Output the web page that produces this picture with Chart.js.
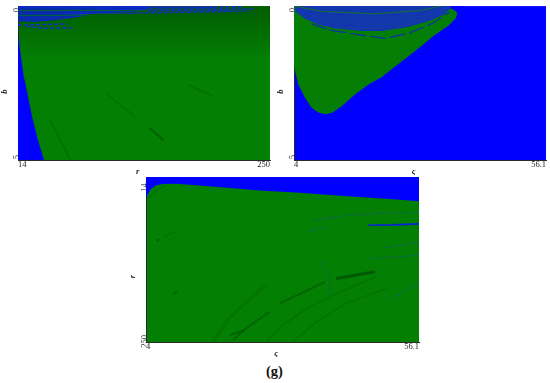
<!DOCTYPE html>
<html>
<head>
<meta charset="utf-8">
<script src="https://cdn.jsdelivr.net/npm/chart.js@4/dist/chart.umd.min.js"></script>
<style>
    html, body { margin: 0; padding: 0; background: #fff; }
    canvas { position: absolute; filter: blur(0.4px); }
    #caption { position: absolute; left: 0; top: 363px; width: 549px; text-align: center;
               font: bold 14.5px "Liberation Serif", serif; color: #111; }
</style>
</head>
<body>
<canvas id="chartRB" style="left:0;top:0"></canvas>
<canvas id="chartZB" style="left:276px;top:0"></canvas>
<canvas id="chartZR" style="left:128px;top:165px"></canvas>
<div id="caption">(g)</div>
<script>
// --- tick labels ---
const rLabels = ['14', '250'];
const bLabels = ['0', '5'];
const zetaLabels = ['4', '56.1'];

// where the tick labels sit: rotated y labels stay inside the axis range
const rTicksX = [14, 250];
const zetaTicksX = [4, 56.1];
const bTicksY = [0.06, 4.84];
const rTicksY = [23, 240];

// --- panel 1: r (x) against b (y) ---
const wedge1 = [[14, 0.93], [19, 2.21], [27.4, 3.62], [32, 4.26], [38.3, 5]];
const darkTop1 = [[14, 1.7], [250, 1.7]];
const blueBlock1 = [[14, 0.5], [30, 0.52], [50, 0.45], [70, 0.36], [85, 0.24], [125, 0.18], [135, 0.1]];
const specks1 = [
    [[14, 0.05], [120, 0.04], [200, 0.05]],
    [[90, 0.1], [150, 0.1], [236, 0.09]],
    [[60, 0.22], [120, 0.23], [170, 0.2], [230, 0.16]],
    [[130, 0.03], [175, 0.03], [225, 0.02]],
    [[135, 0.15], [185, 0.14], [215, 0.13]],
    [[14, 0.62], [35, 0.6], [60, 0.58]],
    [[22, 0.66], [40, 0.72], [66, 0.7]]
];
const greenLines1 = [
    [[14, 0.14], [70, 0.14], [135, 0.15]],
    [[14, 0.3], [60, 0.3], [80, 0.27]]
];
const streaks1 = [
    [[44.2, 3.72], [62.9, 4.98]],
    [[97.2, 2.86], [123.7, 3.59]],
    [[173.3, 2.56], [196.7, 2.92]]
];
const wideStreak1 = [[137.8, 3.97], [150, 4.36]];

// --- panel 2: zeta (x) against b (y) ---
const greenEdge2 = [[4, 1.96], [4.9, 2.55], [6.27, 2.98], [7.65, 3.3], [9.03, 3.46], [10.4, 3.51], [11.8, 3.47],
    [13.85, 3.25], [16.6, 2.87], [19.4, 2.55], [22.1, 2.31], [24.9, 1.96], [27.6, 1.64], [30.4, 1.29],
    [33.1, 0.94], [35.9, 0.64], [37.3, 0.43], [37.8, 0.25]];
const tipCut2 = [[35.8, 0], [36.5, 0.09], [37.3, 0.14], [37.85, 0.25], [39, 0.25]];
const dome2 = [[4.2, 0.17], [6.27, 0.41], [9.03, 0.6], [12.5, 0.73], [18, 0.81], [22.1, 0.81], [27.6, 0.68],
    [31.8, 0.49], [34.9, 0.28], [36.2, 0.11], [36.5, 0]];
const blueArc2 = [[7.6, 0.57], [11.44, 0.78], [18, 0.94], [22.8, 1.05], [27.6, 0.89], [32.5, 0.57], [36.2, 0.19]];
const greenArc2 = [[4.2, 0], [9.7, 0.17], [20.7, 0.25], [30.4, 0.14], [34.2, 0]];
const domeTexture2 = [
    [[8, 0.3], [14, 0.42], [22, 0.46], [30, 0.35], [35, 0.12]],
    [[10, 0.45], [16, 0.58], [24, 0.6], [31, 0.42]],
    [[13, 0.7], [20, 0.74], [27, 0.62], [32, 0.43]]
];

// --- panel 3: zeta (x) against r (y) ---
const blueTop3 = [[4, 44.9], [4.39, 37.75], [5.02, 30.6], [5.98, 25.9], [7.25, 24], [9.79, 23.5], [13.6, 25.9],
    [20, 29.7], [26.3, 33.5], [32.7, 36.3], [39, 39.7], [45.4, 43], [51.8, 46.3], [56.1, 48.7]];
const brightLine3 = [[46.4, 83], [51, 82.5], [56.1, 81]];
const specks3 = [
    [[35.9, 75.8], [41.6, 69.6]],
    [[42.2, 68.7], [49, 66], [56.1, 64]],
    [[35.2, 91.5], [38.4, 85.3]],
    [[46.7, 130.6], [56.1, 125.8]],
    [[49.2, 116], [56.1, 106.8]],
    [[51.1, 187.7], [56.1, 166.2]],
    [[37.1, 135.3], [39, 154.4], [39, 182.9]]
];
const thickStreak3 = [[40.3, 159.1], [47.6, 149.6]];
const streaks3 = [
    [[33.6, 180.5], [38.1, 163.9]],
    [[29.5, 194.8], [33.6, 180.5]],
    [[20.6, 247], [23.1, 230.5], [27.6, 206.7]],
    [[20, 240], [22.8, 233]],
    [[9.2, 182], [10.1, 177]],
    [[6, 105.8], [6.6, 103]]
];
const thinStreaks3 = [
    [[27, 249.5], [30.1, 225.7], [35.2, 199.6], [39.7, 182.9], [48, 156.7]],
    [[32, 250], [36.5, 221], [42.2, 194.8], [49.9, 173.4]],
    [[7.6, 98.2], [9.5, 92.5]],
    [[4.4, 45], [6, 33], [7.5, 27]]
];
const wideStreak3 = [[16.8, 249.5], [19.3, 221], [22.5, 197.2], [27, 168.6]];

const GREEN = '#037f03';
const BLUE = '#0000ff';
const SERIF = '"Liberation Serif", serif';

function toXY(pairs) {
    return pairs.map(p => ({ x: p[0], y: p[1] }));
}

// outline dataset, no fill
function stroke(pairs, color, width, dash) {
    return { data: toXY(pairs), showLine: true, fill: false, pointRadius: 0,
             borderColor: color, borderWidth: width, borderDash: dash || [] };
}

// area between the curve and a constant y value
function area(pairs, color, value) {
    return { data: toXY(pairs), showLine: true, fill: { value: value }, pointRadius: 0,
             borderWidth: 0, borderColor: 'transparent', backgroundColor: color };
}

// paints the plot area before the datasets
const plotBackground = {
    id: 'plotBackground',
    beforeDraw(chart, args, opts) {
        const a = chart.chartArea;
        chart.ctx.fillStyle = opts.color;
        chart.ctx.fillRect(a.left, a.top, a.width, a.height);
    }
};

function axis(min, max, tickAt, labels, title, horizontal, reverse) {
    return {
        type: 'linear', min: min, max: max, reverse: !!reverse,
        afterBuildTicks: s => { s.ticks = tickAt.map(v => ({ value: v })); },
        afterFit: s => { if (horizontal) s.height = 18; else s.width = 18; },
        grid: { display: false, drawTicks: false },
        border: { display: true, color: '#2a2a2a', width: 1 },
        ticks: {
            autoSkip: false, align: horizontal ? 'inner' : 'center', padding: horizontal ? 0 : 1, color: '#222',
            font: { family: SERIF, size: 8.5 },
            minRotation: horizontal ? 0 : 90, maxRotation: horizontal ? 0 : 90,
            callback: (v, i) => labels[i]
        },
        title: {
            display: true, text: title, color: '#222', padding: { top: 0, bottom: 1 },
            font: { family: SERIF, size: 8.5, style: 'italic', weight: 'bold' }
        }
    };
}

function makeChart(id, width, height, padding, bg, xAxis, yAxis, layers) {
    const canvas = document.getElementById(id);
    canvas.width = width;
    canvas.height = height;
    // later layers go on top
    layers.forEach((d, i) => { d.order = -i; });
    return new Chart(canvas, {
        type: 'scatter',
        data: { datasets: layers },
        plugins: [plotBackground],
        options: {
            responsive: false, animation: false,
            layout: { padding: padding },
            scales: { x: xAxis, y: yAxis },
            plugins: { legend: { display: false }, tooltip: { enabled: false }, plotBackground: { color: bg } }
        }
    });
}

// axis titles sit a little before the middle of the axis in the original, hence the spaces
const OFF_X = '      ';
const OFF_Y = '        ';

// panel 1
const darkBand = area(darkTop1, 'transparent', 0);
darkBand.backgroundColor = c => {
    const a = c.chart.chartArea;
    if (!a) return 'transparent';
    const g = c.chart.ctx.createLinearGradient(0, a.top, 0, a.top + 53);
    g.addColorStop(0, 'rgba(0, 50, 0, 0.45)');
    g.addColorStop(1, 'rgba(0, 50, 0, 0)');
    return g;
};
makeChart('chartRB', 275, 178, { left: 0, top: 4, right: 5, bottom: 0 }, GREEN,
    axis(14, 250, rTicksX, rLabels, 'r' + OFF_X, true),
    axis(0, 5, bTicksY, bLabels, 'b' + OFF_Y, false, true),
    [
        darkBand,
        area(blueBlock1, 'rgba(10, 30, 215, 0.8)', 0),
        ...specks1.map(s => stroke(s, 'rgba(20, 40, 220, 0.9)', 1.5, [4, 2])),
        ...greenLines1.map(s => stroke(s, 'rgba(0, 120, 20, 0.8)', 1)),
        ...streaks1.map(s => stroke(s, 'rgba(0, 70, 0, 0.35)', 1.2)),
        stroke(wideStreak1, 'rgba(0, 70, 0, 0.55)', 2),
        area(wedge1, BLUE, 5)
    ]);

// panel 2
makeChart('chartZB', 274, 178, { left: 0, top: 4, right: 4, bottom: 0 }, BLUE,
    axis(4, 56.1, zetaTicksX, zetaLabels, 'ς' + OFF_X, true),
    axis(0, 5, bTicksY, bLabels, 'b' + OFF_Y, false, true),
    [
        area(greenEdge2, '#057e05', 0),
        area(tipCut2, BLUE, 0),
        area(dome2, '#1236ae', 0),
        ...domeTexture2.map(s => stroke(s, 'rgba(20, 100, 110, 0.55)', 1, [1, 2])),
        stroke(blueArc2, 'rgba(15, 40, 190, 0.9)', 1.2, [16, 4]),
        stroke(greenArc2, 'rgba(20, 110, 60, 0.9)', 1.2)
    ]);

// panel 3
makeChart('chartZR', 296, 195, { left: 0, top: 12, right: 5, bottom: 0 }, GREEN,
    axis(4, 56.1, zetaTicksX, zetaLabels, 'ς' + OFF_X, true),
    axis(14, 250, rTicksY, rLabels, 'r' + OFF_Y + OFF_Y, false, true),
    [
        stroke(wideStreak3, 'rgba(0, 80, 0, 0.22)', 3.5),
        ...thinStreaks3.map(s => stroke(s, 'rgba(0, 80, 0, 0.3)', 1.2)),
        ...streaks3.map(s => stroke(s, 'rgba(0, 70, 0, 0.45)', 2)),
        stroke(thickStreak3, 'rgba(0, 70, 0, 0.65)', 3),
        ...specks3.map(s => stroke(s, 'rgba(20, 70, 170, 0.6)', 1, [3, 2])),
        stroke(brightLine3, 'rgba(10, 30, 225, 0.95)', 1.6),
        area(blueTop3, BLUE, 14)
    ]);
</script>
</body>
</html>
